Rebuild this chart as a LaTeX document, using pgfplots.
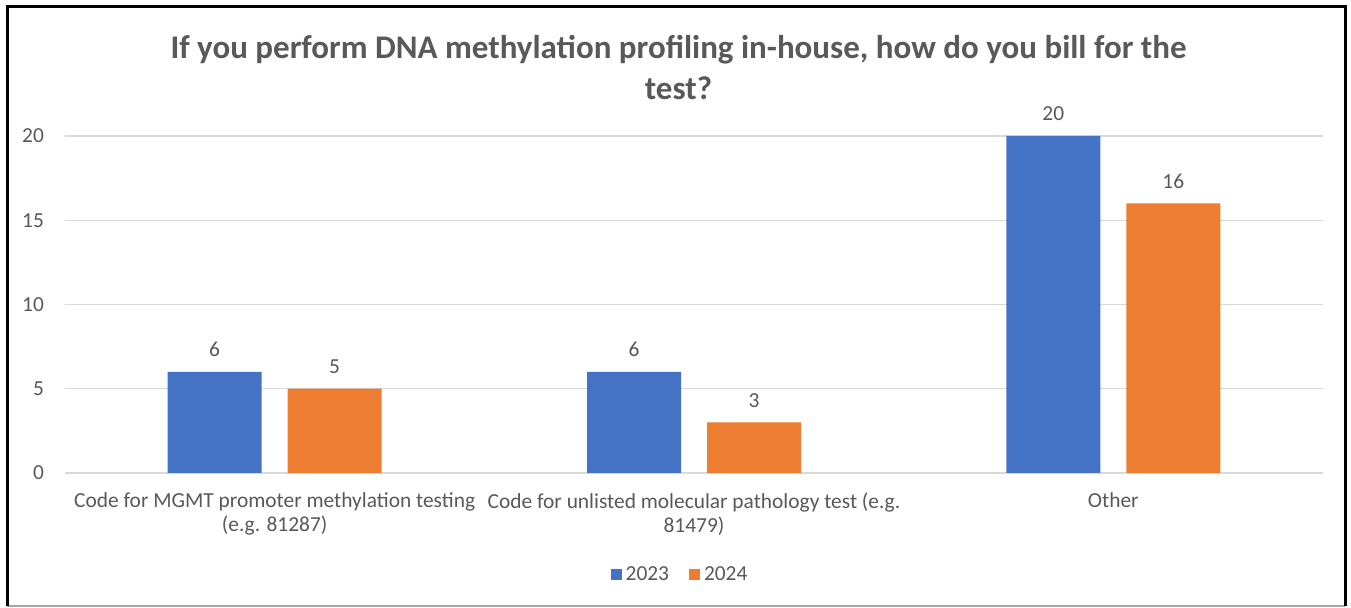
\documentclass[border=0pt]{standalone}
\usepackage{fontspec}
\setmainfont{Carlito}
\usepackage{pgfplots}
\pgfplotsset{compat=1.18}
\definecolor{bblue}{HTML}{4472C4}
\definecolor{borange}{HTML}{ED7D31}
\definecolor{txt}{HTML}{595959}
\definecolor{gridc}{HTML}{D9D9D9}

\begin{document}
\begin{tikzpicture}[x=1pt,y=1pt]
\useasboundingbox (0,0) rectangle (675.5,304);
\fill[white] (0,0) rectangle (675.5,304);
\begin{axis}[
  at={(32.5pt,67.5pt)}, anchor=south west,
  scale only axis, width=629pt, height=168.5pt,
  ybar=13pt, bar width=47pt,
  xmin=-0.5, xmax=2.5, ymin=0, ymax=20,
  xtick={0,1,2},
  xticklabels={{Code for MGMT promoter methylation testing\\(e.g. 81287)},
               {Code for unlisted molecular pathology test (e.g.\\81479)},
               {Other}},
  ytick={0,5,10,15,20},
  ymajorgrids, grid style={gridc, line width=0.7pt},
  axis line style={draw=none},
  major tick length=0pt,
  /pgf/number format/assume math mode=true,
  tick label style={font=\fontsize{10.7}{12}\selectfont, text=txt},
  xticklabel style={align=center, yshift=-6.5pt},
  yticklabel style={xshift=-7pt},
  nodes near coords,
  every node near coord/.append style={font=\fontsize{10.7}{12}\selectfont, text=txt, yshift=4pt},
  legend style={at={(0.4897,-0.303)}, anchor=center, draw=none,
    font=\fontsize{10.7}{12}\selectfont, text=txt,
    /tikz/every even column/.append style={column sep=8pt}},
  legend columns=2,
  clip=false,
]
\addplot[fill=bblue, draw=none,
  legend image code/.code={\fill[bblue] (0pt,-2.5pt) rectangle (5.5pt,3pt);}]
  coordinates {(0,6) (1,6) (2,20)};
\addplot[fill=borange, draw=none,
  legend image code/.code={\fill[borange] (0pt,-2.5pt) rectangle (5.5pt,3pt);}]
  coordinates {(0,5) (1,3) (2,16)};
\legend{2023,2024}
\end{axis}
\node[align=center, font=\bfseries\fontsize{16.5}{20.5}\selectfont, text=txt] at (339.25,270.25)
  {If you perform DNA methylation profiling in-house, how do you bill for the\\test?};
\draw[gray!70, line width=0.8pt] (3.5,1) -- (672.5,1);
\draw[black, line width=1.5pt] (3.5,1) -- (3.5,300.5) -- (672.5,300.5) -- (672.5,1);
\end{tikzpicture}
\end{document}
